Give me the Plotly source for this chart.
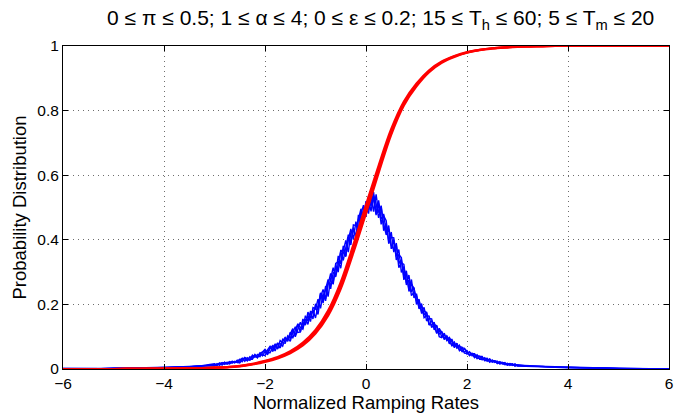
import numpy as np
import plotly.graph_objects as go

# ---------------- data ----------------
# x grids
x_blue_left = [-6.0, -5.75, -5.5, -5.25, -5.0, -4.75, -4.5, -4.25, -4.0, -3.75, -3.5, -3.25]
x_blue_mid = [round(-3.0 + 0.05 * i, 2) for i in range(121)]
x_blue_right = [3.25, 3.5, 3.75, 4.0, 4.25, 4.5, 4.75, 5.0, 5.25, 5.5, 5.75, 6.0]
x_red = [round(-6.0 + 0.25 * i, 2) for i in range(49)]

# blue: empirical probability densities (noisy), 4 runs
blue1_left = [0.001, 0.002, 0.001, 0.002, 0.002, 0.003, 0.002, 0.004, 0.004, 0.006, 0.007, 0.010]
blue1_mid = [
    0.016, 0.012, 0.016, 0.020, 0.014, 0.018, 0.023, 0.018, 0.024, 0.020,
    0.030, 0.023, 0.035, 0.031, 0.028, 0.043, 0.036, 0.045, 0.038, 0.050,
    0.058, 0.048, 0.069, 0.059, 0.072, 0.062, 0.088, 0.081, 0.080, 0.103,
    0.095, 0.122, 0.104, 0.139, 0.129, 0.123, 0.165, 0.148, 0.174, 0.155,
    0.202, 0.184, 0.236, 0.204, 0.247, 0.277, 0.248, 0.299, 0.293, 0.350,
    0.325, 0.381, 0.350, 0.400, 0.434, 0.402, 0.456, 0.426, 0.481, 0.507,
    0.472, 0.535, 0.504, 0.548, 0.481, 0.512, 0.448, 0.480, 0.422, 0.444,
    0.372, 0.400, 0.348, 0.370, 0.299, 0.317, 0.266, 0.291, 0.239, 0.252,
    0.200, 0.212, 0.178, 0.191, 0.149, 0.156, 0.155, 0.121, 0.136, 0.107,
    0.117, 0.094, 0.101, 0.078, 0.093, 0.071, 0.077, 0.057, 0.066, 0.064,
    0.046, 0.053, 0.041, 0.046, 0.032, 0.039, 0.039, 0.026, 0.031, 0.021,
    0.028, 0.020, 0.023, 0.016, 0.019, 0.020, 0.012, 0.016, 0.011, 0.015,
    0.009]
blue1_right = [0.009, 0.007, 0.006, 0.004, 0.004, 0.003, 0.002, 0.002, 0.002, 0.001, 0.001, 0.001]

blue2_left = [0.002, 0.001, 0.001, 0.001, 0.003, 0.002, 0.003, 0.003, 0.005, 0.005, 0.008, 0.009]
blue2_mid = [
    0.011, 0.017, 0.011, 0.018, 0.020, 0.015, 0.020, 0.024, 0.020, 0.025,
    0.021, 0.033, 0.031, 0.025, 0.038, 0.033, 0.045, 0.036, 0.046, 0.043,
    0.041, 0.059, 0.070, 0.054, 0.069, 0.081, 0.065, 0.087, 0.098, 0.088,
    0.114, 0.095, 0.120, 0.140, 0.114, 0.145, 0.136, 0.176, 0.158, 0.183,
    0.158, 0.202, 0.234, 0.208, 0.257, 0.224, 0.280, 0.314, 0.285, 0.325,
    0.364, 0.336, 0.382, 0.416, 0.390, 0.438, 0.410, 0.463, 0.496, 0.469,
    0.520, 0.493, 0.534, 0.487, 0.541, 0.484, 0.503, 0.428, 0.451, 0.396,
    0.424, 0.362, 0.390, 0.326, 0.339, 0.276, 0.296, 0.246, 0.277, 0.220,
    0.233, 0.186, 0.196, 0.167, 0.177, 0.138, 0.136, 0.145, 0.112, 0.122,
    0.099, 0.111, 0.088, 0.094, 0.071, 0.081, 0.067, 0.074, 0.054, 0.053,
    0.057, 0.043, 0.049, 0.039, 0.044, 0.030, 0.030, 0.035, 0.024, 0.030,
    0.021, 0.025, 0.018, 0.023, 0.015, 0.015, 0.018, 0.011, 0.015, 0.010,
    0.013]
blue2_right = [0.008, 0.008, 0.005, 0.005, 0.003, 0.003, 0.003, 0.001, 0.002, 0.002, 0.001, 0.000]

blue3_left = [0.001, 0.001, 0.002, 0.002, 0.002, 0.002, 0.004, 0.003, 0.004, 0.005, 0.007, 0.009]
blue3_mid = [
    0.014, 0.011, 0.018, 0.014, 0.018, 0.021, 0.016, 0.022, 0.019, 0.027,
    0.028, 0.033, 0.024, 0.035, 0.030, 0.030, 0.043, 0.039, 0.050, 0.041,
    0.054, 0.044, 0.064, 0.072, 0.056, 0.078, 0.079, 0.071, 0.095, 0.087,
    0.108, 0.125, 0.100, 0.126, 0.145, 0.125, 0.155, 0.138, 0.178, 0.175,
    0.192, 0.169, 0.223, 0.246, 0.217, 0.262, 0.296, 0.262, 0.319, 0.300,
    0.368, 0.361, 0.348, 0.408, 0.384, 0.446, 0.444, 0.433, 0.490, 0.459,
    0.504, 0.481, 0.542, 0.523, 0.476, 0.522, 0.464, 0.474, 0.459, 0.388,
    0.408, 0.406, 0.338, 0.354, 0.345, 0.286, 0.304, 0.240, 0.263, 0.250,
    0.209, 0.216, 0.172, 0.181, 0.173, 0.136, 0.150, 0.135, 0.110, 0.126,
    0.112, 0.091, 0.103, 0.089, 0.073, 0.083, 0.064, 0.069, 0.068, 0.049,
    0.048, 0.052, 0.046, 0.035, 0.041, 0.040, 0.028, 0.032, 0.033, 0.023,
    0.026, 0.026, 0.017, 0.021, 0.020, 0.013, 0.016, 0.017, 0.012, 0.015,
    0.010]
blue3_right = [0.009, 0.006, 0.006, 0.005, 0.003, 0.004, 0.002, 0.002, 0.001, 0.001, 0.002, 0.001]

blue4_left = [0.002, 0.001, 0.002, 0.001, 0.002, 0.003, 0.003, 0.004, 0.003, 0.006, 0.006, 0.010]
blue4_mid = [
    0.010, 0.014, 0.018, 0.012, 0.021, 0.017, 0.017, 0.023, 0.023, 0.021,
    0.019, 0.029, 0.036, 0.029, 0.027, 0.040, 0.041, 0.034, 0.048, 0.053,
    0.061, 0.051, 0.050, 0.067, 0.077, 0.066, 0.067, 0.092, 0.084, 0.097,
    0.086, 0.113, 0.131, 0.113, 0.115, 0.155, 0.139, 0.166, 0.147, 0.190,
    0.186, 0.216, 0.188, 0.234, 0.211, 0.270, 0.262, 0.268, 0.327, 0.332,
    0.312, 0.366, 0.398, 0.362, 0.422, 0.430, 0.406, 0.477, 0.460, 0.493,
    0.498, 0.527, 0.488, 0.537, 0.512, 0.468, 0.506, 0.448, 0.415, 0.434,
    0.384, 0.370, 0.384, 0.314, 0.329, 0.324, 0.260, 0.276, 0.227, 0.238,
    0.227, 0.190, 0.202, 0.159, 0.165, 0.164, 0.128, 0.139, 0.132, 0.100,
    0.097, 0.107, 0.090, 0.098, 0.085, 0.066, 0.080, 0.060, 0.057, 0.063,
    0.055, 0.041, 0.047, 0.047, 0.034, 0.033, 0.037, 0.026, 0.026, 0.031,
    0.022, 0.024, 0.024, 0.016, 0.020, 0.018, 0.012, 0.015, 0.016, 0.009,
    0.012]
blue4_right = [0.010, 0.007, 0.005, 0.004, 0.004, 0.002, 0.003, 0.002, 0.001, 0.001, 0.001, 0.001]

# red: cumulative distributions, 3 runs
red1 = [0.000, 0.000, 0.000, 0.000, 0.000, 0.001, 0.001, 0.001, 0.001, 0.002, 0.002, 0.003,
        0.004, 0.006, 0.009, 0.015, 0.024, 0.035, 0.052, 0.077, 0.115, 0.173, 0.258, 0.372,
        0.495, 0.618, 0.735, 0.822, 0.880, 0.922, 0.950, 0.968, 0.980, 0.988, 0.993, 0.996,
        0.998, 0.999, 0.999, 1.000, 1.000, 1.000, 1.000, 1.000, 1.000, 1.000, 1.000, 1.000, 1.000]
red2 = [0.000, 0.000, 0.000, 0.000, 0.000, 0.001, 0.001, 0.001, 0.002, 0.002, 0.003, 0.003,
        0.004, 0.006, 0.010, 0.016, 0.025, 0.037, 0.055, 0.082, 0.121, 0.181, 0.269, 0.385,
        0.508, 0.630, 0.743, 0.828, 0.884, 0.925, 0.952, 0.969, 0.981, 0.988, 0.993, 0.996,
        0.998, 0.999, 1.000, 1.000, 1.000, 1.000, 1.000, 1.000, 1.000, 1.000, 1.000, 1.000, 1.000]
red3 = [0.000, 0.000, 0.000, 0.000, 0.000, 0.000, 0.000, 0.001, 0.001, 0.001, 0.002, 0.002,
        0.004, 0.005, 0.008, 0.014, 0.022, 0.033, 0.049, 0.073, 0.110, 0.165, 0.248, 0.360,
        0.482, 0.607, 0.726, 0.816, 0.875, 0.919, 0.948, 0.966, 0.979, 0.987, 0.992, 0.995,
        0.997, 0.998, 0.999, 1.000, 1.000, 1.000, 1.000, 1.000, 1.000, 1.000, 1.000, 1.000, 1.000]

x_ticks = [-6, -4, -2, 0, 2, 4, 6]
y_ticks = [0, 0.2, 0.4, 0.6, 0.8, 1]

title_text = ("0 ≤ π ≤ 0.5; 1 ≤ α ≤ 4; 0 ≤ ε ≤ 0.2; 15 ≤ T<sub>h</sub> ≤ 60; "
              "5 ≤ T<sub>m</sub> ≤ 20")
x_title = "Normalized Ramping Rates"
y_title = "Probability Distribution"

# ---------------- figure ----------------
x_blue = x_blue_left + x_blue_mid + x_blue_right
blue_runs = [
    blue1_left + blue1_mid + blue1_right,
    blue2_left + blue2_mid + blue2_right,
    blue3_left + blue3_mid + blue3_right,
    blue4_left + blue4_mid + blue4_right,
]
red_runs = [red1, red2, red3]

fig = go.Figure()
for yb in blue_runs:
    fig.add_trace(go.Scatter(x=x_blue, y=yb, mode="lines",
                             line=dict(color="rgb(0,0,255)", width=1.4),
                             hoverinfo="skip"))
for yr in red_runs:
    fig.add_trace(go.Scatter(x=x_red, y=yr, mode="lines",
                             line=dict(color="rgb(255,0,0)", width=2.2, shape="spline"),
                             hoverinfo="skip"))

FONT = "Liberation Sans, Arial, Helvetica, sans-serif"
axis_common = dict(
    showline=True, linecolor="black", linewidth=1, mirror="ticks",
    ticks="inside", ticklen=5, tickcolor="black", tickwidth=1,
    showgrid=True, gridcolor="#6e6e6e", gridwidth=1, griddash="1px,4px",
    zeroline=False, tickfont=dict(family=FONT, size=15.5, color="black"),
    ticklabeloverflow="allow",
)

fig.update_layout(
    width=675, height=417,
    margin=dict(l=63, r=2, t=46, b=48),
    paper_bgcolor="white", plot_bgcolor="white",
    showlegend=False,
    font=dict(family=FONT, color="black"),
    title=dict(text=title_text, font=dict(family=FONT, size=21, color="black"),
               xref="container", x=0.564, xanchor="center",
               yref="container", y=0.957, yanchor="middle"),
    xaxis=dict(range=[-6, 6], tickvals=x_ticks,
               title=dict(text=x_title, font=dict(family=FONT, size=18.5), standoff=1),
               **axis_common),
    yaxis=dict(range=[0, 1], tickvals=y_ticks,
               title=dict(text=y_title, font=dict(family=FONT, size=18.5), standoff=5),
               **axis_common),
)

fig.write_html("out.html")
